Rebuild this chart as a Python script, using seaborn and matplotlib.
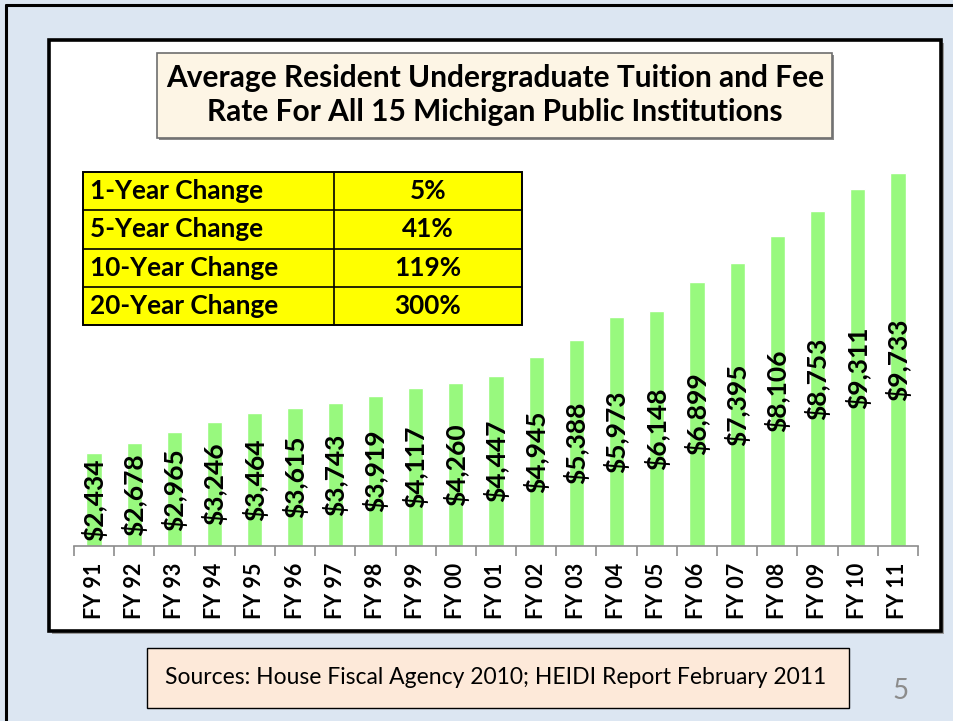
import matplotlib
matplotlib.use("Agg")
import matplotlib.pyplot as plt
from matplotlib.patches import Rectangle
from matplotlib.lines import Line2D
import seaborn as sns
import pandas as pd

# ---------------- data ----------------
years = ["FY 91", "FY 92", "FY 93", "FY 94", "FY 95", "FY 96", "FY 97", "FY 98",
         "FY 99", "FY 00", "FY 01", "FY 02", "FY 03", "FY 04", "FY 05", "FY 06",
         "FY 07", "FY 08", "FY 09", "FY 10", "FY 11"]
tuition = [2434, 2678, 2965, 3246, 3464, 3615, 3743, 3919, 4117, 4260, 4447,
           4945, 5388, 5973, 6148, 6899, 7395, 8106, 8753, 9311, 9733]
change_labels = ["1-Year Change", "5-Year Change", "10-Year Change", "20-Year Change"]
change_values = ["5%", "41%", "119%", "300%"]
title_text = "Average Resident Undergraduate Tuition and Fee\nRate For All 15 Michigan Public Institutions"
source_text = "Sources: House Fiscal Agency 2010; HEIDI Report February 2011"
slide_number = "5"

# ---------------- style ----------------
sns.set_theme(style="white")
plt.rcParams["font.family"] = ["Lato", "DejaVu Sans"]

W, H = 954, 721
fig = plt.figure(figsize=(W / 100, H / 100), dpi=100)
fig.patch.set_facecolor("#dce6f2")

def fx(x):
    return x / W

def fy(y):
    return 1 - y / H

def rect_px(x0, y0, x1, y1, **kw):
    r = Rectangle((fx(x0), fy(y1)), fx(x1) - fx(x0), fy(y0) - fy(y1),
                  transform=fig.transFigure, **kw)
    fig.add_artist(r)
    return r

# slide frame (top and left edges visible)
fig.add_artist(Line2D([fx(6), fx(6)], [fy(5), -0.01], transform=fig.transFigure,
                      color="black", lw=2.2, zorder=0.2))
fig.add_artist(Line2D([fx(6), 1.01], [fy(5), fy(5)], transform=fig.transFigure,
                      color="black", lw=2.2, zorder=0.2))

# chart panel with shadow
rect_px(52, 43, 944, 634, facecolor="#9a9a9a", edgecolor="none", zorder=0.3)
rect_px(49, 40, 941, 631, facecolor="white", edgecolor="black", lw=2.6, zorder=0.5)

# ---------------- bars ----------------
df = pd.DataFrame({"year": years, "tuition": tuition})
ax = fig.add_axes([fx(74), fy(546), fx(918) - fx(74), (546 - 163) / H])
ax.set_zorder(1.5)
ax.set_facecolor("none")
ax.patch.set_alpha(0)
sns.barplot(data=df, x="year", y="tuition", color="#98f97e", saturation=1,
            width=0.38, ax=ax, zorder=2)
ax.set_ylim(0, 10000)
ax.set_xlim(-0.5, len(years) - 0.5)
for s in ["left", "right", "top"]:
    ax.spines[s].set_visible(False)
ax.spines["bottom"].set_color("#8c8c8c")
ax.spines["bottom"].set_linewidth(1.2)
ax.set_yticks([])
ax.set_xlabel("")
ax.set_ylabel("")
ax.set_xticks(range(len(years)))
ax.set_xticklabels(years, rotation=90, fontsize=15.5, fontweight="bold", color="black")
ax.tick_params(axis="x", which="major", length=0, pad=12)
ax.set_xticks([i - 0.5 for i in range(len(years) + 1)], minor=True)
ax.tick_params(axis="x", which="minor", length=7, width=1.2, color="#8c8c8c",
               direction="out", bottom=True)

for i, v in enumerate(tuition):
    ax.text(i, v / 2, f"${v:,}", rotation=90, ha="center", va="center",
            fontsize=19, fontweight="bold", color="black", zorder=3)

# ---------------- title box ----------------
rect_px(159, 55, 834, 140, facecolor="#8a8a8a", edgecolor="none", zorder=1)
rect_px(157, 53, 832, 138, facecolor="#fdf5e5", edgecolor="#6e6e6e", lw=1.2, zorder=1.1)
fig.text(fx(495), fy(95), title_text, ha="center", va="center",
         fontsize=21.5, fontweight="bold", color="black", linespacing=1.25, zorder=2)

# ---------------- change table ----------------
tx0, tx1, tmid = 83, 522, 334
ty0, row_h = 172, 38.25
rect_px(tx0, ty0, tx1, ty0 + row_h * len(change_labels), facecolor="#ffff00",
        edgecolor="black", lw=1.4, zorder=1)
for k in range(1, len(change_labels)):
    yy = fy(ty0 + row_h * k)
    fig.add_artist(Line2D([fx(tx0), fx(tx1)], [yy, yy], transform=fig.transFigure,
                          color="black", lw=1.2, zorder=1.2))
fig.add_artist(Line2D([fx(tmid), fx(tmid)], [fy(ty0), fy(ty0 + row_h * len(change_labels))],
                      transform=fig.transFigure, color="black", lw=1.2, zorder=1.2))
for k, (lab, val) in enumerate(zip(change_labels, change_values)):
    yc = fy(ty0 + row_h * (k + 0.5))
    fig.text(fx(90), yc, lab, ha="left", va="center", fontsize=18.8,
             fontweight="bold", color="black", zorder=2)
    fig.text(fx((tmid + tx1) / 2), yc, val, ha="center", va="center", fontsize=18.8,
             fontweight="bold", color="black", zorder=2)

# ---------------- source box & slide number ----------------
rect_px(147, 648, 849, 708, facecolor="#fde9d9", edgecolor="black", lw=1.0, zorder=1)
fig.text(fx(496), fy(678), source_text, ha="center", va="center", fontsize=16.5,
         color="black", zorder=2)
fig.text(fx(901), fy(691), slide_number, ha="center", va="center", fontsize=20,
         color="#8c8c8c", zorder=2)

fig.savefig("out.png", dpi=100, facecolor=fig.get_facecolor())
